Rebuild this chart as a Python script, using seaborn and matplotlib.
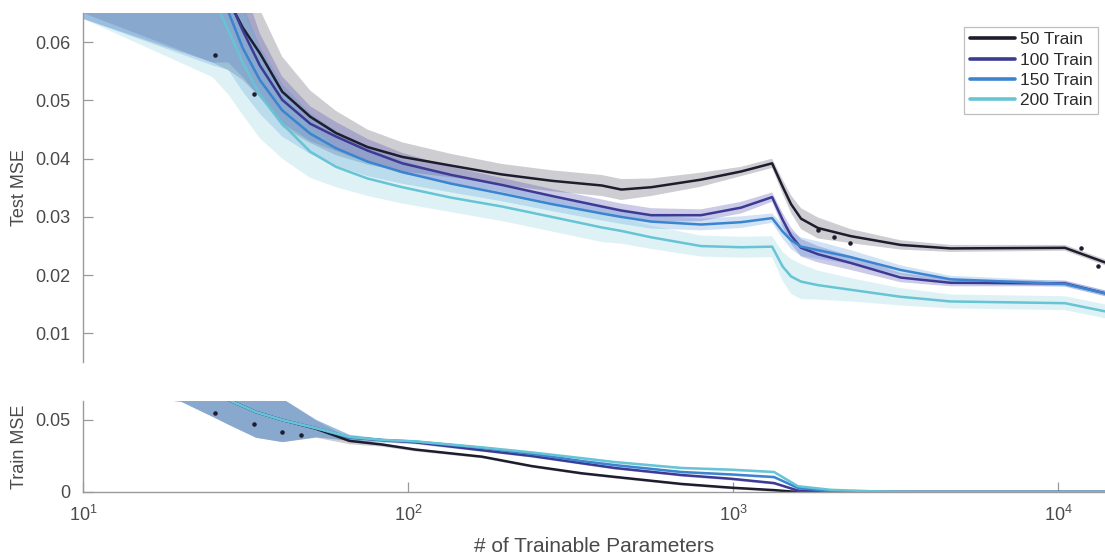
import numpy as np
import pandas as pd
import matplotlib
matplotlib.use("Agg")
import matplotlib.pyplot as plt
from matplotlib.lines import Line2D
from matplotlib.ticker import LogLocator, FixedLocator
import seaborn as sns

# ---- series definitions -------------------------------------------------
series = ["50 Train", "100 Train", "150 Train", "200 Train"]
line_colors = ["#1d1d2e", "#3d3a94", "#3b84d0", "#66c4d4"]
band_colors = ["#777784", "#5450b0", "#4a8fd8", "#6cc8d8"]
band_alpha = [0.36, 0.30, 0.26, 0.22]

# ---- test error vs. model size ------------------------------------------
params_test = [10, 25, 28, 31, 35, 41, 50, 60, 75, 96, 136, 194, 277, 394, 453,
               560, 797, 1058, 1318, 1420, 1507, 1618, 1824, 2302, 3275, 4663,
               10490, 13930]

test_50 = [0.105, 0.0725, 0.0672, 0.0625, 0.0581, 0.0515, 0.0472, 0.0444,
           0.0420, 0.0403, 0.0388, 0.0373, 0.0362, 0.0354, 0.0347, 0.0351,
           0.0364, 0.0378, 0.0392, 0.0352, 0.0322, 0.0297, 0.0281, 0.0267,
           0.0252, 0.0246, 0.0247, 0.0222]
test_100 = [0.105, 0.0720, 0.0675, 0.0620, 0.0560, 0.0501, 0.0460, 0.0438,
            0.0414, 0.0392, 0.0372, 0.0355, 0.0336, 0.0318, 0.0311, 0.0303,
            0.0303, 0.0316, 0.0334, 0.0295, 0.0268, 0.0247, 0.0236, 0.0221,
            0.0196, 0.0187, 0.0186, 0.0169]
test_150 = [0.100, 0.0700, 0.0652, 0.0590, 0.0535, 0.0483, 0.0443, 0.0418,
            0.0395, 0.0377, 0.0357, 0.0340, 0.0322, 0.0306, 0.0300, 0.0292,
            0.0287, 0.0291, 0.0298, 0.0275, 0.0260, 0.0249, 0.0243, 0.0231,
            0.0209, 0.0193, 0.0185, 0.0169]
test_200 = [0.095, 0.0680, 0.0620, 0.0565, 0.0510, 0.0460, 0.0412, 0.0386,
            0.0366, 0.0351, 0.0333, 0.0318, 0.0300, 0.0282, 0.0276, 0.0265,
            0.0250, 0.0248, 0.0249, 0.0215, 0.0198, 0.0189, 0.0183, 0.0175,
            0.0163, 0.0155, 0.0152, 0.0138]

test_sd_50 = [0.040, 0.016, 0.012, 0.009, 0.0075, 0.006, 0.0045, 0.0038, 0.003,
              0.0025, 0.002, 0.0018, 0.0018, 0.0018, 0.0018, 0.0015, 0.0012,
              0.0008, 0.0008, 0.0012, 0.0015, 0.0018, 0.0018, 0.0012, 0.0008,
              0.0006, 0.0005, 0.0005]
test_sd_100 = [0.041, 0.0155, 0.011, 0.008, 0.0055, 0.004, 0.003, 0.0025, 0.002,
               0.0018, 0.0014, 0.0012, 0.0012, 0.0012, 0.0012, 0.0012, 0.001,
               0.001, 0.0008, 0.0012, 0.0014, 0.0015, 0.0014, 0.0012, 0.0008,
               0.0006, 0.0005, 0.0005]
test_sd_150 = [0.036, 0.014, 0.010, 0.0075, 0.0058, 0.0045, 0.0035, 0.003,
               0.0025, 0.002, 0.0015, 0.0013, 0.0012, 0.0012, 0.0012, 0.0012,
               0.001, 0.001, 0.0008, 0.0012, 0.0015, 0.0016, 0.0015, 0.0012,
               0.0008, 0.0006, 0.0005, 0.0005]
test_sd_200 = [0.031, 0.014, 0.011, 0.009, 0.0075, 0.006, 0.0045, 0.0035,
               0.003, 0.0028, 0.0025, 0.0025, 0.0025, 0.0025, 0.0022, 0.002,
               0.0018, 0.0018, 0.0018, 0.0025, 0.003, 0.003, 0.0025, 0.002,
               0.0015, 0.0012, 0.0012, 0.0012]

# ---- training error vs. model size --------------------------------------
params_train = [10, 20, 25, 28, 34, 41, 52, 66, 83, 105, 169, 240, 342, 432,
                693, 986, 1336, 1583, 2000, 2845, 3590, 5000, 13930]

train_50 = [0.100, 0.080, 0.070, 0.064, 0.0556, 0.0500, 0.0440, 0.0355,
            0.0330, 0.0295, 0.0245, 0.0180, 0.0130, 0.0105, 0.0056, 0.0030,
            0.0013, 0.0, 0.0, 0.0, 0.0, 0.0, 0.0]
train_100 = [0.100, 0.080, 0.070, 0.064, 0.0556, 0.0500, 0.0444, 0.0378,
             0.0360, 0.0345, 0.0290, 0.0250, 0.0200, 0.0167, 0.0118, 0.0092,
             0.0062, 0.0010, 0.0002, 0.0, 0.0, 0.0, 0.0]
train_150 = [0.100, 0.080, 0.070, 0.064, 0.0556, 0.0500, 0.0444, 0.0380,
             0.0361, 0.0350, 0.0306, 0.0265, 0.0215, 0.0187, 0.0139, 0.0122,
             0.0104, 0.0028, 0.0005, 0.0, 0.0, 0.0, 0.0]
train_200 = [0.100, 0.080, 0.070, 0.064, 0.0556, 0.0500, 0.0444, 0.0382,
             0.0362, 0.0352, 0.0310, 0.0275, 0.0235, 0.0208, 0.0167, 0.0155,
             0.0139, 0.0040, 0.0015, 0.0003, 0.0, 0.0, 0.0]

train_sd = [0.030, 0.017, 0.0175, 0.017, 0.0176, 0.015, 0.006, 0.002, 0.0012,
            0.001, 0.0008, 0.0008, 0.0008, 0.0008, 0.0008, 0.0008, 0.0008,
            0.0006, 0.0003, 0.0001, 0.0, 0.0, 0.0]

# individual 50-sample runs shown as dots
dots_test_x = [25.4, 33.5, 1824, 2042, 2287, 11780, 13280]
dots_test_y = [0.0578, 0.0511, 0.0278, 0.0266, 0.0255, 0.0247, 0.0216]
dots_train_x = [25.4, 33.5, 41, 47]
dots_train_y = [0.0549, 0.0472, 0.0417, 0.0396]

# ---- assemble long tables ------------------------------------------------
test_means = [test_50, test_100, test_150, test_200]
test_sds = [test_sd_50, test_sd_100, test_sd_150, test_sd_200]
train_means = [train_50, train_100, train_150, train_200]

test_df = pd.concat([
    pd.DataFrame({"params": params_test, "mse": m, "sd": s, "series": name})
    for name, m, s in zip(series, test_means, test_sds)
], ignore_index=True)
train_df = pd.concat([
    pd.DataFrame({"params": params_train, "mse": m, "sd": train_sd, "series": name})
    for name, m in zip(series, train_means)
], ignore_index=True)

# ---- style ---------------------------------------------------------------
sns.set_theme(style="white")
plt.rcParams["font.family"] = ["Liberation Sans", "DejaVu Sans"]
text_color = "#4a4a4a"
axis_color = "#9a9a9a"
palette = dict(zip(series, line_colors))

fig = plt.figure(figsize=(11.05, 5.57), dpi=100)
ax_top = fig.add_axes([0.0751, 0.350, 0.9249, 0.6267])
ax_bot = fig.add_axes([0.0751, 0.1167, 0.9249, 0.1634])

xlim = (10, 13930)

for ax, df in ((ax_top, test_df), (ax_bot, train_df)):
    ax.set_xscale("log")
    for name, bc, ba in zip(series, band_colors, band_alpha):
        sub = df[df["series"] == name]
        lo = np.clip(sub["mse"] - sub["sd"], 0, None)
        hi = sub["mse"] + sub["sd"]
        ax.fill_between(sub["params"], lo, hi, color=bc, alpha=ba, lw=0)
    sns.lineplot(data=df, x="params", y="mse", hue="series", hue_order=series,
                 palette=palette, linewidth=1.8, errorbar=None, legend=False,
                 ax=ax)

ax_top.scatter(dots_test_x, dots_test_y, s=5, color="#1d1d2e", zorder=5)
ax_bot.scatter(dots_train_x, dots_train_y, s=5, color="#1d1d2e", zorder=5)

# top panel: test error
ax_top.set_xlim(*xlim)
ax_top.set_ylim(0.0051, 0.065)
ax_top.set_yticks([0.01, 0.02, 0.03, 0.04, 0.05, 0.06])
ax_top.set_yticklabels(["0.01", "0.02", "0.03", "0.04", "0.05", "0.06"])
ax_top.set_xticks([])
ax_top.xaxis.set_minor_locator(FixedLocator([]))
ax_top.set_xlabel("")
ax_top.set_ylabel("Test MSE", fontsize=13, color=text_color, labelpad=5)
for side in ("top", "right", "bottom"):
    ax_top.spines[side].set_visible(False)

# bottom panel: training error
ax_bot.set_xlim(*xlim)
ax_bot.set_ylim(0, 0.0632)
ax_bot.set_yticks([0, 0.05])
ax_bot.set_yticklabels(["0", "0.05"])
ax_bot.xaxis.set_major_locator(LogLocator(base=10, numticks=10))
ax_bot.xaxis.set_minor_locator(LogLocator(base=10, subs=np.arange(2, 10), numticks=20))
ax_bot.set_xlabel("# of Trainable Parameters", fontsize=15, color=text_color, labelpad=9)
ax_bot.set_ylabel("Train MSE", fontsize=13, color=text_color, labelpad=5)
for side in ("top", "right"):
    ax_bot.spines[side].set_visible(False)

for ax in (ax_top, ax_bot):
    ax.set_facecolor("none")
    for side in ("left", "bottom"):
        ax.spines[side].set_color(axis_color)
        ax.spines[side].set_linewidth(1.0)
    ax.tick_params(axis="both", which="major", direction="in", length=7,
                   width=0.9, color=axis_color, labelsize=13,
                   labelcolor=text_color, left=True, bottom=True)
    ax.tick_params(axis="both", which="minor", direction="in", length=4,
                   width=0.8, color=axis_color)
    ax.tick_params(axis="y", which="major", pad=9)
ax_top.tick_params(axis="x", which="both", bottom=False, labelbottom=False)
ax_bot.tick_params(axis="x", which="major", pad=9)

handles = [Line2D([0], [0], color=c, lw=2.6) for c in line_colors]
leg = ax_top.legend(handles, series, loc="upper right",
                    bbox_to_anchor=(0.993, 0.96), frameon=True,
                    fancybox=False, fontsize=12.5, handlelength=2.6,
                    handletextpad=0.3, labelspacing=0.3, borderpad=0.3,
                    borderaxespad=0.0, labelcolor="#2a2a2a")
leg.get_frame().set_edgecolor("#b0b0b0")
leg.get_frame().set_linewidth(0.9)

fig.savefig("out.png", dpi=100)
